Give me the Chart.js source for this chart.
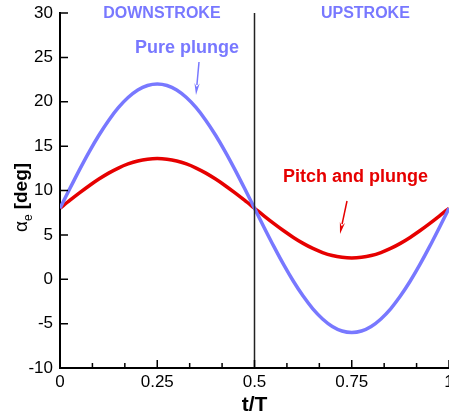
<!DOCTYPE html>
<html>
<head>
<meta charset="utf-8">
<script src="https://cdn.jsdelivr.net/npm/chart.js@4.4.1/dist/chart.umd.min.js"></script>
<style>
  body { margin: 0; background: #fff; }
  #wrap { width: 449px; height: 416px; }
</style>
</head>
<body>
<div id="wrap"><canvas id="alphaChart" width="449" height="416"></canvas></div>
<script>
// phase t/T and effective angle of attack for both motions
var tValues = [0, 0.025, 0.05, 0.075, 0.1, 0.125, 0.15, 0.175, 0.2, 0.225, 0.25,
  0.275, 0.3, 0.325, 0.35, 0.375, 0.4, 0.425, 0.45, 0.475, 0.5,
  0.525, 0.55, 0.575, 0.6, 0.625, 0.65, 0.675, 0.7, 0.725, 0.75,
  0.775, 0.8, 0.825, 0.85, 0.875, 0.9, 0.925, 0.95, 0.975, 1];
var purePlunge = [8, 10.19, 12.33, 14.36, 16.23, 17.9, 19.33, 20.47, 21.32, 21.83, 22,
  21.83, 21.32, 20.47, 19.33, 17.9, 16.23, 14.36, 12.33, 10.19, 8,
  5.81, 3.67, 1.64, -0.23, -1.9, -3.33, -4.47, -5.32, -5.83, -6,
  -5.83, -5.32, -4.47, -3.33, -1.9, -0.23, 1.64, 3.67, 5.81, 8];
var pitchPlunge = [8, 8.88, 9.73, 10.54, 11.29, 11.96, 12.53, 12.99, 13.33, 13.53, 13.6,
  13.53, 13.33, 12.99, 12.53, 11.96, 11.29, 10.54, 9.73, 8.88, 8,
  7.12, 6.27, 5.46, 4.71, 4.04, 3.47, 3.01, 2.67, 2.47, 2.4,
  2.47, 2.67, 3.01, 3.47, 4.04, 4.71, 5.46, 6.27, 7.12, 8];
var xTickLabels = ['0', '0.25', '0.5', '0.75', '1'];
var strokeLabels = ['DOWNSTROKE', 'UPSTROKE'];

var blue = '#7878ff';
var red = '#e60000';

function toPoints(ys) {
  return ys.map(function (y, i) { return { x: tValues[i], y: y }; });
}

// tick marks pointing into the plot, half-period line and annotations
var decorations = {
  id: 'decorations',
  afterDatasetsDraw: function (chart) {
    var ctx = chart.ctx, a = chart.chartArea;
    var xs = chart.scales.x, ys = chart.scales.y;
    ctx.save();

    // vertical line at t/T = 0.5
    var xm = xs.getPixelForValue(0.5);
    ctx.strokeStyle = '#222';
    ctx.lineWidth = 1.5;
    ctx.beginPath();
    ctx.moveTo(xm, a.top);
    ctx.lineTo(xm, a.bottom);
    ctx.stroke();

    ctx.strokeStyle = '#000';
    ctx.lineWidth = 1.5;
    ctx.beginPath();
    xs.ticks.forEach(function (t) {
      var px = xs.getPixelForValue(t.value);
      var len = Math.round(t.value * 12) % 3 === 0 ? 8 : 5;
      ctx.moveTo(px, a.bottom);
      ctx.lineTo(px, a.bottom - len);
    });
    ys.ticks.forEach(function (t) {
      var py = ys.getPixelForValue(t.value);
      ctx.moveTo(a.left, py);
      ctx.lineTo(a.left + 8, py);
    });
    ctx.stroke();

    // stroke phase headings
    ctx.font = 'bold 16px "Liberation Sans", Arial, sans-serif';
    ctx.fillStyle = blue;
    ctx.textAlign = 'center';
    ctx.textBaseline = 'alphabetic';
    ctx.fillText(strokeLabels[0], xs.getPixelForValue(0.262), 18);
    ctx.fillText(strokeLabels[1], xs.getPixelForValue(0.785), 18);

    // curve labels with arrows
    ctx.font = 'bold 18px "Liberation Sans", Arial, sans-serif';
    ctx.textAlign = 'left';
    ctx.fillText('Pure plunge', 135, 53);
    ctx.fillStyle = red;
    ctx.fillText('Pitch and plunge', 283, 182);

    function arrow(x1, y1, x2, y2, color) {
      var ang = Math.atan2(y2 - y1, x2 - x1);
      var h = 12;
      ctx.strokeStyle = color;
      ctx.fillStyle = color;
      ctx.lineWidth = 1.5;
      ctx.beginPath();
      ctx.moveTo(x1, y1);
      ctx.lineTo(x2 - (h - 2) * Math.cos(ang), y2 - (h - 2) * Math.sin(ang));
      ctx.stroke();
      ctx.beginPath();
      ctx.moveTo(x2, y2);
      ctx.lineTo(x2 - h * Math.cos(ang - 0.22), y2 - h * Math.sin(ang - 0.22));
      ctx.lineTo(x2 - (h - 4) * Math.cos(ang), y2 - (h - 4) * Math.sin(ang));
      ctx.lineTo(x2 - h * Math.cos(ang + 0.22), y2 - h * Math.sin(ang + 0.22));
      ctx.closePath();
      ctx.fill();
    }
    arrow(199, 62, 196, 95, blue);
    arrow(347, 201, 340, 234, red);

    // axis titles
    ctx.fillStyle = '#000';
    ctx.font = 'bold 21px "Liberation Sans", Arial, sans-serif';
    ctx.textAlign = 'center';
    ctx.fillText('t/T', xm, 411);

    ctx.translate(27, 232);
    ctx.rotate(-Math.PI / 2);
    ctx.textAlign = 'left';
    ctx.font = '19px "Liberation Sans", Arial, sans-serif';
    ctx.fillText('\u03b1', 0, 0);
    var w = ctx.measureText('\u03b1').width;
    ctx.font = '12px "Liberation Sans", Arial, sans-serif';
    ctx.fillText('e', w, 5);
    w += ctx.measureText('e').width + 5;
    ctx.font = 'bold 19px "Liberation Sans", Arial, sans-serif';
    ctx.fillText('[deg]', w, 0);

    ctx.restore();
  }
};

new Chart(document.getElementById('alphaChart'), {
  type: 'line',
  data: {
    datasets: [
      {
        label: 'Pure plunge',
        data: toPoints(purePlunge),
        borderColor: blue,
        borderWidth: 3.5,
        pointRadius: 0,
        tension: 0.3
      },
      {
        label: 'Pitch and plunge',
        data: toPoints(pitchPlunge),
        borderColor: red,
        borderWidth: 3.5,
        pointRadius: 0,
        tension: 0.3
      }
    ]
  },
  options: {
    responsive: false,
    animation: false,
    layout: { padding: { top: 13, right: 0, left: 0, bottom: 0 } },
    plugins: {
      legend: { display: false },
      tooltip: { enabled: false }
    },
    scales: {
      x: {
        type: 'linear',
        min: 0,
        max: 1,
        grid: { display: false, drawTicks: false },
        border: { display: true, color: '#000', width: 2 },
        ticks: {
          stepSize: 1 / 12,
          autoSkip: false,
          maxRotation: 0,
          maxTicksLimit: 20,
          padding: 4,
          color: '#000',
          font: { family: '"Liberation Sans", Arial, sans-serif', size: 17 },
          callback: function (v) {
            var k = Math.round(v * 12);
            return k % 3 === 0 ? xTickLabels[k / 3] : '';
          }
        },
        afterFit: function (scale) {
          scale.height = 48;
          scale.paddingLeft = 0;
          scale.paddingRight = 0;
        }
      },
      y: {
        min: -10,
        max: 30,
        grid: { display: false, drawTicks: false },
        border: { display: true, color: '#000', width: 2 },
        ticks: {
          stepSize: 5,
          padding: 7,
          color: '#000',
          font: { family: '"Liberation Sans", Arial, sans-serif', size: 17 }
        },
        afterFit: function (scale) {
          scale.width = 60;
          scale.paddingTop = 0;
          scale.paddingBottom = 0;
        }
      }
    }
  },
  plugins: [decorations]
});
</script>
</body>
</html>
